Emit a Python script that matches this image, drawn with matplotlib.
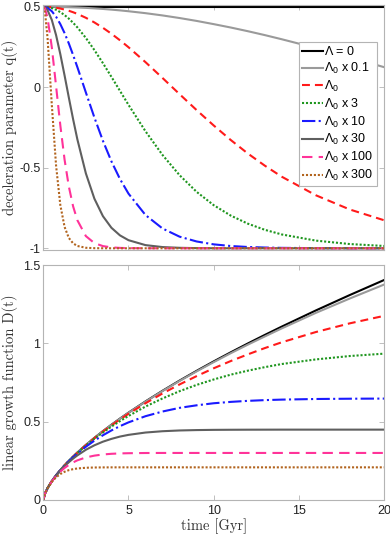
import matplotlib
matplotlib.use("Agg")
import matplotlib.pyplot as plt

plt.rcParams['font.family'] = ['Liberation Sans', 'DejaVu Sans']
plt.rcParams['mathtext.fontset'] = 'custom'
plt.rcParams['mathtext.rm'] = 'Liberation Sans'
plt.rcParams['mathtext.it'] = 'Liberation Sans:italic'
plt.rcParams['axes.unicode_minus'] = False

# time [Gyr]
t = [0, 0.1, 0.25, 0.5, 0.75, 1, 1.25, 1.5, 1.75, 2, 2.5, 3, 3.5, 4,
     4.5, 5, 6, 7, 8, 9, 10, 11, 12, 13, 14, 16, 18, 20]

# deceleration parameter q(t)
q_l0 = [0.5] * 28
q_x01 = [0.5, 0.5, 0.4999, 0.4997, 0.4994, 0.4989, 0.4982, 0.4975, 0.4965, 0.4955,
         0.4929, 0.4898, 0.4862, 0.482, 0.4773, 0.472, 0.46, 0.4459, 0.4298, 0.4119,
         0.392, 0.371, 0.3482, 0.3239, 0.298, 0.2438, 0.1856, 0.1249]
q_x1 = [0.5, 0.4999, 0.4993, 0.4972, 0.4936, 0.4887, 0.4824, 0.4748, 0.4658, 0.4555,
        0.4313, 0.4024, 0.3692, 0.3322, 0.2918, 0.2487, 0.1558, 0.0575, -0.0429, -0.1418,
        -0.237, -0.3272, -0.4109, -0.4866, -0.5556, -0.6707, -0.7594, -0.8257]
q_x3 = [0.5, 0.4997, 0.4979, 0.4915, 0.481, 0.4665, 0.448, 0.426, 0.4004, 0.3718,
        0.306, 0.231, 0.1498, 0.0646, -0.0222, -0.109, -0.2735, -0.4206, -0.5461, -0.6494,
        -0.732, -0.7967, -0.8468, -0.8851, -0.9141, -0.9523, -0.9737, -0.9855]
q_x10 = [0.5, 0.4989, 0.4929, 0.472, 0.438, 0.392, 0.3361, 0.2716, 0.2004, 0.1249,
         -0.0326, -0.188, -0.3325, -0.4603, -0.5695, -0.6603, -0.7935, -0.8771, -0.9278, -0.9576,
         -0.9755, -0.9858, -0.9918, -0.9953, -0.9973, -0.9991, -0.9997, -0.9999]
q_x30 = [0.5, 0.4966, 0.479, 0.418, 0.3238, 0.2054, 0.0729, -0.0644, -0.1983, -0.3234,
         -0.5351, -0.6919, -0.8004, -0.8727, -0.9197, -0.9496, -0.9803, -0.9924, -0.997, -0.9989,
         -0.9997, -0.9999, -1, -1, -1, -1, -1, -1]
q_x100 = [0.5, 0.4887, 0.4313, 0.2486, 0.0074, -0.237, -0.45, -0.6166, -0.7394, -0.8257,
          -0.9244, -0.9678, -0.9864, -0.9943, -0.9976, -0.999, -0.9998, -1, -1, -1,
          -1, -1, -1, -1, -1, -1, -1, -1]
q_x300 = [0.5, 0.4665, 0.306, -0.1085, -0.4863, -0.7318, -0.8675, -0.9359, -0.9693, -0.9856,
          -0.9968, -0.9993, -0.9998, -1, -1, -1, -1, -1, -1, -1,
          -1, -1, -1, -1, -1, -1, -1, -1]

# linear growth function D(t)
D_l0 = [0, 0.0411, 0.0756, 0.12, 0.1573, 0.1906, 0.2212, 0.2497, 0.2767, 0.3025,
        0.351, 0.3964, 0.4393, 0.4802, 0.5194, 0.5572, 0.6292, 0.6972, 0.7622, 0.8244,
        0.8845, 0.9425, 0.9988, 1.0536, 1.1069, 1.21, 1.3088, 1.404]
D_x01 = [0, 0.0411, 0.0756, 0.12, 0.1573, 0.1906, 0.2212, 0.2497, 0.2766, 0.3024,
         0.3509, 0.3962, 0.4389, 0.4797, 0.5187, 0.5565, 0.6277, 0.6955, 0.7598, 0.8209,
         0.8799, 0.9367, 0.9913, 1.0438, 1.0955, 1.1945, 1.2866, 1.3751]
D_x1 = [0, 0.0411, 0.0756, 0.12, 0.1573, 0.1905, 0.221, 0.2493, 0.2761, 0.3019,
        0.3499, 0.3946, 0.4364, 0.4762, 0.5139, 0.5501, 0.6176, 0.6801, 0.7377, 0.7908,
        0.8407, 0.8868, 0.9293, 0.9696, 1.0068, 1.0722, 1.1279, 1.1753]
D_x3 = [0, 0.0411, 0.0756, 0.1199, 0.1571, 0.1903, 0.2206, 0.2488, 0.2753, 0.3006,
        0.3474, 0.391, 0.4309, 0.4686, 0.5034, 0.5363, 0.5965, 0.6483, 0.6946, 0.7347,
        0.7693, 0.8, 0.8254, 0.848, 0.868, 0.8974, 0.9191, 0.9341]
D_x10 = [0, 0.0411, 0.0756, 0.1199, 0.1569, 0.1896, 0.2194, 0.2469, 0.2724, 0.2963,
         0.3399, 0.3786, 0.4132, 0.444, 0.4713, 0.4954, 0.5349, 0.5648, 0.5882, 0.6044,
         0.6175, 0.6262, 0.6328, 0.6375, 0.6408, 0.6447, 0.6465, 0.6474]
D_x30 = [0, 0.0411, 0.0755, 0.1196, 0.1558, 0.1876, 0.216, 0.2413, 0.2641, 0.2847,
         0.3206, 0.3491, 0.3722, 0.3901, 0.4048, 0.4157, 0.4306, 0.439, 0.4438, 0.4463,
         0.4477, 0.4483, 0.4487, 0.4489, 0.4491, 0.4491, 0.4491, 0.4491]
D_x100 = [0, 0.0411, 0.0753, 0.1184, 0.1527, 0.181, 0.2045, 0.224, 0.2399, 0.2531,
          0.2717, 0.2832, 0.2905, 0.2948, 0.2973, 0.2986, 0.2999, 0.3003, 0.3003, 0.3003,
          0.3003, 0.3003, 0.3003, 0.3003, 0.3003, 0.3003, 0.3003, 0.3003]
D_x300 = [0, 0.041, 0.0748, 0.1155, 0.1447, 0.1657, 0.1802, 0.1906, 0.1968, 0.2012,
          0.2058, 0.2074, 0.208, 0.2083, 0.2084, 0.2084, 0.2084, 0.2084, 0.2084, 0.2084,
          0.2084, 0.2084, 0.2084, 0.2084, 0.2084, 0.2084, 0.2084, 0.2084]

labels = [r'$\Lambda$ = 0', r'$\Lambda_0$ x 0.1', r'$\Lambda_0$', r'$\Lambda_0$ x 3',
          r'$\Lambda_0$ x 10', r'$\Lambda_0$ x 30', r'$\Lambda_0$ x 100', r'$\Lambda_0$ x 300']
styles = [dict(color='black', ls='-'),
          dict(color='#9a9a9a', ls='-'),
          dict(color='#ff1a1a', ls=(0, (3.8, 2.4))),
          dict(color='#1f961f', ls=(0, (1, 0.9))),
          dict(color='#1a1aff', ls='-.'),
          dict(color='#5f5f5f', ls='-'),
          dict(color='#ff3399', ls=(0, (5, 3))),
          dict(color='#b2641e', ls=(0, (1, 0.9)))]

q_all = [q_l0, q_x01, q_x1, q_x3, q_x10, q_x30, q_x100, q_x300]
D_all = [D_l0, D_x01, D_x1, D_x3, D_x10, D_x30, D_x100, D_x300]

fig = plt.figure(figsize=(3.9, 5.34), dpi=100)
ax1 = fig.add_axes([0.111, 0.5309, 0.8736, 0.4597])
ax2 = fig.add_axes([0.111, 0.0637, 0.8736, 0.44])

for q, D, lab, st in zip(q_all, D_all, labels, styles):
    ax1.plot(t, q, lw=1.5, label=lab, **st)
    ax2.plot(t, D, lw=1.5, **st)

frame = '#b4b4b4'
for ax in (ax1, ax2):
    ax.set_xlim(0, 20)
    ax.set_xticks([0, 5, 10, 15, 20])
    ax.tick_params(direction='in', length=3.5, width=0.6, top=True, right=True,
                   colors=frame, labelcolor='#222222', labelsize=9)
    ax.tick_params(axis='y', pad=2)
    for s in ax.spines.values():
        s.set_color(frame)
        s.set_linewidth(0.8)
    ax.yaxis.set_label_coords(-0.073, 0.5)

ax1.set_ylim(-1.0137, 0.5106)
ax1.set_yticks([-1, -0.5, 0, 0.5])
ax1.set_yticklabels(['-1', '-0.5', '0', '0.5'])
ax1.set_xticklabels([])
ax1.set_ylabel('deceleration parameter q(t)', fontname='cmr10', fontsize=10.5, color='#333333')

ax2.set_ylim(0, 1.5)
ax2.set_yticks([0, 0.5, 1, 1.5])
ax2.set_yticklabels(['0', '0.5', '1', '1.5'])
ax2.set_xticklabels(['0', '5', '10', '15', '20'])
ax2.set_ylabel('linear growth function D(t)', fontname='cmr10', fontsize=10.5, color='#333333')
ax2.set_xlabel('time [Gyr]', fontname='cmr10', fontsize=10.5, color='#333333', labelpad=1)

leg = ax1.legend(loc='upper right', bbox_to_anchor=(0.979, 0.849), borderaxespad=0,
                 fontsize=9, fancybox=False, framealpha=1, edgecolor=frame,
                 handlelength=1.65, handletextpad=0.15, borderpad=0.25, labelspacing=0.22)
leg.get_frame().set_linewidth(0.8)

fig.savefig('out.png', dpi=100)
